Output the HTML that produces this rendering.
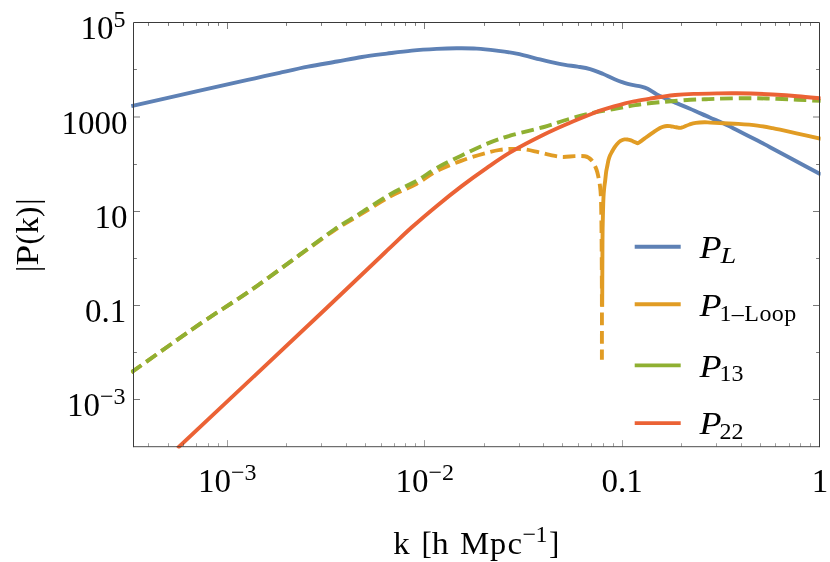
<!DOCTYPE html>
<html><head><meta charset="utf-8"><title>Power spectrum</title>
<style>html,body{margin:0;padding:0;background:#fff}body{width:830px;height:562px;position:relative;overflow:hidden;font-family:"Liberation Serif",serif}</style></head>
<body>
<svg width="830" height="562" viewBox="0 0 830 562" style="position:absolute;left:0;top:0;will-change:opacity;opacity:0.999">
<defs><clipPath id="c"><rect x="130.9" y="22.5" width="689.7" height="425.9"/></clipPath></defs>
<g clip-path="url(#c)" fill="none" stroke-width="3.90" stroke-linejoin="round">
<path d="M131.30,106.20 C139.58,104.32 164.59,98.62 181.00,94.90 C197.41,91.18 217.42,86.67 229.75,83.90 C242.08,81.13 246.69,80.15 255.00,78.30 C263.31,76.45 270.77,74.73 279.60,72.80 C288.43,70.87 298.43,68.58 308.00,66.70 C317.57,64.82 328.02,63.12 337.00,61.50 C345.98,59.88 353.58,58.32 361.90,57.00 C370.22,55.68 378.58,54.67 386.90,53.60 C395.22,52.53 403.48,51.38 411.80,50.60 C420.12,49.82 429.32,49.28 436.80,48.90 C444.28,48.52 450.05,48.35 456.70,48.30 C463.35,48.25 470.05,48.22 476.70,48.60 C483.35,48.98 489.95,49.77 496.60,50.60 C503.25,51.43 509.37,52.13 516.60,53.60 C523.83,55.07 534.02,57.95 540.00,59.40 C545.98,60.85 548.32,61.40 552.50,62.30 C556.68,63.20 560.92,64.08 565.10,64.80 C569.28,65.52 573.43,65.88 577.60,66.60 C581.77,67.32 585.92,67.90 590.10,69.10 C594.28,70.30 598.52,72.07 602.70,73.80 C606.88,75.53 611.03,77.82 615.20,79.50 C619.37,81.18 623.33,82.72 627.70,83.90 C632.07,85.08 638.08,85.78 641.40,86.60 C644.72,87.42 645.10,87.53 647.60,88.80 C650.10,90.07 653.47,92.60 656.40,94.20 C659.33,95.80 662.07,97.00 665.20,98.40 C668.33,99.80 671.07,100.88 675.20,102.60 C679.33,104.32 684.32,106.25 690.00,108.70 C695.68,111.15 703.68,114.82 709.30,117.30 C714.92,119.78 718.88,121.35 723.70,123.60 C728.52,125.85 732.57,127.98 738.20,130.80 C743.83,133.62 752.20,137.77 757.50,140.50 C762.80,143.23 763.32,143.62 770.00,147.20 C776.68,150.78 789.10,157.45 797.60,162.00 C806.10,166.55 817.10,172.42 821.00,174.50" stroke="#5e81b5"/>
<path d="M131.30,372.40 C142.75,364.32 180.23,337.48 200.00,323.90 C219.77,310.32 233.27,302.40 249.90,290.90 C266.53,279.40 285.73,265.00 299.80,254.90 C313.87,244.80 324.45,236.88 334.30,230.30 C344.15,223.72 349.62,221.02 358.90,215.40 C368.18,209.78 380.37,201.88 390.00,196.60 C399.63,191.32 408.90,187.95 416.70,183.70 C424.50,179.45 429.30,174.95 436.80,171.10 C444.30,167.25 453.40,163.63 461.70,160.60 C470.00,157.57 480.22,154.68 486.60,152.90 C492.98,151.12 495.68,150.57 500.00,149.90 C504.32,149.23 508.35,148.98 512.50,148.90 C516.65,148.82 520.75,148.90 524.90,149.40 C529.05,149.90 533.23,150.98 537.40,151.90 C541.57,152.82 545.75,154.07 549.90,154.90 C554.05,155.73 558.15,156.70 562.30,156.90 C566.45,157.10 571.05,156.20 574.80,156.10 C578.55,156.00 582.43,155.98 584.80,156.30 C587.17,156.62 587.75,157.20 589.00,158.00 C590.25,158.80 591.30,159.77 592.30,161.10 C593.30,162.43 594.17,164.13 595.00,166.00 C595.83,167.87 596.50,169.17 597.30,172.30 C598.10,175.43 599.18,180.22 599.80,184.80 C600.42,189.38 600.70,190.65 601.00,199.80 C601.30,208.95 601.45,223.00 601.60,239.70 C601.75,256.40 601.85,279.98 601.90,300.00 C601.95,320.02 601.90,349.83 601.90,359.80" stroke="#e19c24" stroke-dasharray="12.6 5.8"/>
<path d="M602.20,306.80 C602.25,295.62 602.37,255.47 602.50,239.70 C602.63,223.93 602.83,219.32 603.00,212.20 C603.17,205.08 603.30,201.03 603.50,197.00 C603.70,192.97 603.92,190.75 604.20,188.00 C604.48,185.25 604.87,183.25 605.20,180.50 C605.53,177.75 605.85,173.92 606.20,171.50 C606.55,169.08 606.92,167.92 607.30,166.00 C607.68,164.08 608.05,161.75 608.50,160.00 C608.95,158.25 609.40,156.92 610.00,155.50 C610.60,154.08 611.37,152.82 612.10,151.50 C612.83,150.18 613.60,148.82 614.40,147.60 C615.20,146.38 615.88,145.32 616.90,144.20 C617.92,143.08 619.23,141.70 620.50,140.90 C621.77,140.10 623.25,139.62 624.50,139.40 C625.75,139.18 626.92,139.43 628.00,139.60 C629.08,139.77 630.00,140.05 631.00,140.40 C632.00,140.75 633.12,141.30 634.00,141.70 C634.88,142.10 635.72,142.55 636.30,142.80 C636.88,143.05 637.08,143.23 637.50,143.20 C637.92,143.17 638.22,142.95 638.80,142.60 C639.38,142.25 640.02,141.80 641.00,141.10 C641.98,140.40 642.43,140.02 644.70,138.40 C646.97,136.78 652.05,133.13 654.60,131.40 C657.15,129.67 658.52,128.80 660.00,128.00 C661.48,127.20 662.33,126.93 663.50,126.60 C664.67,126.27 665.83,126.07 667.00,126.00 C668.17,125.93 669.33,126.07 670.50,126.20 C671.67,126.33 672.75,126.57 674.00,126.80 C675.25,127.03 677.02,127.42 678.00,127.60 C678.98,127.78 679.23,127.93 679.90,127.90 C680.57,127.87 681.32,127.60 682.00,127.40 C682.68,127.20 682.75,127.18 684.00,126.70 C685.25,126.22 687.53,125.13 689.50,124.50 C691.47,123.87 693.30,123.27 695.80,122.90 C698.30,122.53 702.08,122.35 704.50,122.30 C706.92,122.25 707.10,122.43 710.30,122.60 C713.50,122.77 719.05,123.08 723.70,123.30 C728.35,123.52 732.57,123.52 738.20,123.90 C743.83,124.28 751.77,124.88 757.50,125.60 C763.23,126.32 765.92,126.87 772.60,128.20 C779.28,129.53 789.53,131.83 797.60,133.60 C805.67,135.37 817.10,137.93 821.00,138.80" stroke="#e19c24"/>
<path d="M131.30,372.40 C142.75,364.32 180.23,337.48 200.00,323.90 C219.77,310.32 233.27,302.43 249.90,290.90 C266.53,279.37 285.73,264.93 299.80,254.70 C313.87,244.47 324.45,236.25 334.30,229.50 C344.15,222.75 349.62,220.05 358.90,214.20 C368.18,208.35 380.37,199.97 390.00,194.40 C399.63,188.83 408.90,185.22 416.70,180.80 C424.50,176.38 429.30,172.13 436.80,167.90 C444.30,163.67 453.40,159.40 461.70,155.40 C470.00,151.40 478.28,147.27 486.60,143.90 C494.92,140.53 502.03,138.02 511.60,135.20 C521.17,132.38 534.45,129.70 544.00,127.00 C553.55,124.30 560.58,121.40 568.90,119.00 C577.22,116.60 586.00,114.33 593.90,112.60 C601.80,110.87 609.43,109.85 616.30,108.60 C623.17,107.35 628.83,106.07 635.10,105.10 C641.37,104.13 647.85,103.43 653.90,102.80 C659.95,102.17 665.35,101.80 671.40,101.30 C677.45,100.80 684.77,100.13 690.20,99.80 C695.63,99.47 699.27,99.48 704.00,99.30 C708.73,99.12 711.43,98.88 718.60,98.70 C725.77,98.52 738.00,98.20 747.00,98.20 C756.00,98.20 764.17,98.45 772.60,98.70 C781.03,98.95 789.53,99.33 797.60,99.70 C805.67,100.07 817.10,100.70 821.00,100.90" stroke="#8fb032" stroke-dasharray="12.6 5.8"/>
<path d="M177.50,448.20 C202.00,425.17 289.60,342.92 324.50,310.00 C359.40,277.08 372.35,264.48 386.90,250.70 C401.45,236.92 403.48,234.77 411.80,227.30 C420.12,219.83 428.48,212.77 436.80,205.90 C445.12,199.03 453.40,192.40 461.70,186.10 C470.00,179.80 478.28,173.85 486.60,168.10 C494.92,162.35 502.03,157.20 511.60,151.60 C521.17,146.00 534.45,139.23 544.00,134.50 C553.55,129.77 560.58,126.78 568.90,123.20 C577.22,119.62 588.72,115.08 593.90,113.00 C599.08,110.92 594.80,112.30 600.00,110.70 C605.20,109.10 618.93,105.03 625.10,103.40 C631.27,101.77 632.83,101.70 637.00,100.90 C641.17,100.10 645.93,99.30 650.10,98.60 C654.27,97.90 657.82,97.30 662.00,96.70 C666.18,96.10 669.93,95.47 675.20,95.00 C680.47,94.53 686.37,94.18 693.60,93.90 C700.83,93.62 711.70,93.46 718.60,93.35 C725.50,93.24 729.60,93.22 735.00,93.25 C740.40,93.28 744.73,93.29 751.00,93.50 C757.27,93.71 764.83,94.05 772.60,94.50 C780.37,94.95 789.53,95.55 797.60,96.20 C805.67,96.85 817.10,98.03 821.00,98.40" stroke="#eb6235"/>
</g>
<path d="M148.50,446.60 v-3.40 M168.50,446.60 v-3.40 M183.50,446.60 v-3.40 M196.50,446.60 v-3.40 M208.50,446.60 v-3.40 M218.50,446.60 v-3.40 M227.50,446.60 v-6.50 M286.50,446.60 v-3.40 M321.50,446.60 v-3.40 M346.50,446.60 v-3.40 M365.50,446.60 v-3.40 M381.50,446.60 v-3.40 M394.50,446.60 v-3.40 M405.50,446.60 v-3.40 M415.50,446.60 v-3.40 M424.50,446.60 v-6.50 M484.50,446.60 v-3.40 M519.50,446.60 v-3.40 M543.50,446.60 v-3.40 M562.50,446.60 v-3.40 M578.50,446.60 v-3.40 M591.50,446.60 v-3.40 M603.50,446.60 v-3.40 M613.50,446.60 v-3.40 M622.50,446.60 v-6.50 M681.50,446.60 v-3.40 M716.50,446.60 v-3.40 M741.50,446.60 v-3.40 M760.50,446.60 v-3.40 M775.50,446.60 v-3.40 M789.50,446.60 v-3.40 M800.50,446.60 v-3.40 M810.50,446.60 v-3.40" stroke="#404040" stroke-width="0.5" fill="none"/>
<path d="M148.50,22.50 v3.40 M168.50,22.50 v3.40 M183.50,22.50 v3.40 M196.50,22.50 v3.40 M208.50,22.50 v3.40 M218.50,22.50 v3.40 M227.50,22.50 v6.50 M286.50,22.50 v3.40 M321.50,22.50 v3.40 M346.50,22.50 v3.40 M365.50,22.50 v3.40 M381.50,22.50 v3.40 M394.50,22.50 v3.40 M405.50,22.50 v3.40 M415.50,22.50 v3.40 M424.50,22.50 v6.50 M484.50,22.50 v3.40 M519.50,22.50 v3.40 M543.50,22.50 v3.40 M562.50,22.50 v3.40 M578.50,22.50 v3.40 M591.50,22.50 v3.40 M603.50,22.50 v3.40 M613.50,22.50 v3.40 M622.50,22.50 v6.50 M681.50,22.50 v3.40 M716.50,22.50 v3.40 M741.50,22.50 v3.40 M760.50,22.50 v3.40 M775.50,22.50 v3.40 M789.50,22.50 v3.40 M800.50,22.50 v3.40 M810.50,22.50 v3.40" stroke="#404040" stroke-width="0.68" fill="none"/>
<path d="M133.50,399.50 h6.50 M819.50,399.50 h-6.50 M133.50,352.50 h3.40 M819.50,352.50 h-3.40 M133.50,305.50 h6.50 M819.50,305.50 h-6.50 M133.50,258.50 h3.40 M819.50,258.50 h-3.40 M133.50,211.50 h6.50 M819.50,211.50 h-6.50 M133.50,164.50 h3.40 M819.50,164.50 h-3.40 M133.50,117.00 h6.50 M819.50,117.00 h-6.50 M133.50,69.50 h3.40 M819.50,69.50 h-3.40" stroke="#404040" stroke-width="0.7" fill="none"/>
<path d="M133.50,447.10 V22.50 H819.50 V447.10" fill="none" stroke="#3a3a3a" stroke-width="1"/>
<path d="M133.00,446.7 H820.00" fill="none" stroke="#3a3a3a" stroke-width="0.9"/>
<line x1="634.7" x2="680.7" y1="246.8" y2="246.8" stroke="#5e81b5" stroke-width="3.9"/>
<line x1="634.7" x2="680.7" y1="304.3" y2="304.3" stroke="#e19c24" stroke-width="3.9"/>
<line x1="634.7" x2="680.7" y1="365.4" y2="365.4" stroke="#8fb032" stroke-width="3.9"/>
<line x1="634.7" x2="680.7" y1="423.1" y2="423.1" stroke="#eb6235" stroke-width="3.9"/>
<g font-family="Liberation Serif, serif" fill="#000">
<text x="125.6" y="39.4" font-size="33" text-anchor="end">10<tspan font-size="24" dy="-12.2">5</tspan></text>
<text x="127.5" y="133.6" font-size="33" text-anchor="end">1000</text>
<text x="127.5" y="227.8" font-size="33" text-anchor="end">10</text>
<text x="126.2" y="322.1" font-size="33" text-anchor="end">0.1</text>
<text x="125.6" y="416.3" font-size="33" text-anchor="end">10<tspan font-size="24" dy="-12.2">−3</tspan></text>
<text x="227.3" y="492.4" font-size="33" text-anchor="middle">10<tspan font-size="24" dy="-12.2">−3</tspan></text>
<text x="424.7" y="492.4" font-size="33" text-anchor="middle">10<tspan font-size="24" dy="-12.2">−2</tspan></text>
<text x="622.1" y="492.4" font-size="33" text-anchor="middle">0.1</text>
<text x="820" y="492.4" font-size="33" text-anchor="middle">1</text>
<text transform="translate(393.3,553.9) scale(1.06,1)" font-size="31">k</text>
<text transform="translate(421.5,553.9) scale(1.00,1)" font-size="31">[</text>
<text transform="translate(431.7,553.9) scale(1.09,1)" font-size="31">h</text>
<text transform="translate(459.9,553.9) scale(1.06,1)" font-size="31">M</text>
<text transform="translate(490.0,553.9) scale(1.04,1)" font-size="31">p</text>
<text transform="translate(507.6,553.9) scale(1.06,1)" font-size="31">c</text>
<text transform="translate(522.4,541.7) scale(1.00,1)" font-size="24">−</text>
<text transform="translate(535.6,541.7) scale(1.00,1)" font-size="24">1</text>
<text transform="translate(549.1,553.9) scale(1.00,1)" font-size="31">]</text>
<text transform="translate(38.2,271.9) rotate(-90) scale(1.00,1)" font-size="31">|</text>
<text transform="translate(38.2,265.4) rotate(-90) scale(1.20,1)" font-size="31">P</text>
<text transform="translate(38.2,244.6) rotate(-90) scale(1.00,1)" font-size="31">(</text>
<text transform="translate(38.2,233.4) rotate(-90) scale(1.05,1)" font-size="31">k</text>
<text transform="translate(38.2,217.1) rotate(-90) scale(1.00,1)" font-size="31">)</text>
<text transform="translate(38.2,204.7) rotate(-90) scale(1.00,1)" font-size="31">|</text>
<text transform="translate(699.6,258) scale(1.13,1)" font-size="32" font-style="italic">P</text>
<text transform="translate(720.6,262.6) scale(1.18,1)" font-size="24" font-style="italic">L</text>
<text transform="translate(699.6,316.2) scale(1.13,1)" font-size="32" font-style="italic">P</text>
<text x="719.4" y="320.8" font-size="24" letter-spacing="0.45">1–Loop</text>
<text transform="translate(699.6,376.8) scale(1.13,1)" font-size="32" font-style="italic">P</text>
<text x="719.4" y="381.4" font-size="24" letter-spacing="0.00">13</text>
<text transform="translate(699.6,434.3) scale(1.13,1)" font-size="32" font-style="italic">P</text>
<text x="719.4" y="438.9" font-size="24" letter-spacing="0.00">22</text>
</g>
</svg>
</body></html>
